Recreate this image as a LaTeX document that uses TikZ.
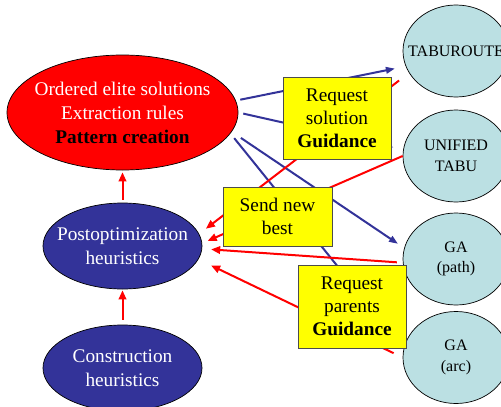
\documentclass[tikz,border=0pt]{standalone}
\usepackage{fontspec}
\setmainfont{Liberation Serif}
\usetikzlibrary{shapes.geometric,arrows.meta}
\definecolor{deepblue}{RGB}{51,51,153}
\definecolor{paleblue}{RGB}{187,224,227}
\definecolor{noteyellow}{RGB}{255,255,0}
\begin{document}
\begin{tikzpicture}[x=1pt,y=-1pt,
  txt/.style={align=center,font=\fontsize{19.3}{24}\selectfont,inner sep=0pt},
  smalltxt/.style={align=center,font=\fontsize{16}{20.5}\selectfont,inner sep=0pt},
  oval/.style={ellipse,draw=black,line width=0.7pt,inner sep=0pt},
  bigoval/.style={oval,fill=deepblue,minimum width=159pt,minimum height=86pt},
  algo/.style={oval,fill=paleblue,minimum width=106pt,minimum height=92pt},
  notebox/.style={rectangle,draw=black!70,line width=0.9pt,fill=noteyellow,
    inner sep=0pt,align=center,font=\fontsize{19.3}{23}\selectfont},
  flowred/.style={draw=red,line width=2pt,-{Triangle[length=9pt,width=7.5pt]}},
  flowblue/.style={draw=deepblue,line width=2pt,-{Triangle[length=9pt,width=6.5pt]}}
]
\useasboundingbox (0,0) rectangle (501,407);
\clip (0,0) rectangle (501,407);

% heuristics on the left
\node[oval,fill=red,minimum width=231pt,minimum height=115pt] (elite) at (122.5,112.5) {};
\node[txt,text=white] (elitetext) at (elite) {Ordered elite solutions\\Extraction rules\\\textcolor{black}{\textbf{Pattern creation}}};
\node[bigoval] (post) at (122.5,246) {};
\node[txt,text=white] (posttext) at (post) {Postoptimization\\heuristics};
\node[bigoval] (cons) at (122.5,368) {};
\node[txt,text=white] (constext) at (cons) {Construction\\heuristics};

% solvers on the right
\node[algo] (tabu) at (456,51) {};
\node[smalltxt] (tabutext) at (tabu) {TABUROUTE};
\node[algo] (unified) at (456,156) {};
\node[smalltxt] (unifiedtext) at (unified) {UNIFIED\\TABU};
\node[algo] (gapath) at (456,259) {};
\node[smalltxt] (gapathtext) at (gapath) {GA\\(path)};
\node[algo] (gaarc) at (456,357.5) {};
\node[smalltxt] (gaarctext) at (gaarc) {GA\\(arc)};

% requests from the pattern pool
\draw[flowblue,shorten <=4.5pt,shorten >=11pt] (elite.6) -- (tabu.197);
\draw[flowblue,shorten <=5pt,shorten >=10pt] (elite.0) -- (unified.173);
\draw[flowblue,shorten <=11pt,shorten >=7.5pt] (elite.-10) -- (gapath.168.5);
\draw[flowblue,shorten <=6pt,shorten >=2pt] (elite.-11.5) -- (gaarc.170);

% improvement chain and new best solutions
\draw[flowred,shorten <=5pt,shorten >=1pt] (cons.north) -- (post.south);
\draw[flowred,shorten <=3pt,shorten >=2pt] (post.north) -- (elite.south);
\draw[flowred,shorten <=12.5pt,shorten >=8.5pt] (tabu.205) -- (post.9.4);
\draw[flowred,shorten >=6pt] (unified.180) -- (post.2);
\draw[flowred,shorten <=6pt,shorten >=9pt] (gapath.184) -- (post.-2.6);
\draw[flowred,shorten <=10pt,shorten >=14pt] (gaarc.180) -- (post.-10.1);

% message labels
\node[notebox,minimum width=108pt,minimum height=82pt] (reqsol) at (337,118) {Request\\solution\\\textbf{Guidance}};
\node[notebox,minimum width=109pt,minimum height=59pt] (send) at (277.5,216.5) {Send new\\best};
\node[notebox,minimum width=108pt,minimum height=83pt] (reqpar) at (352,306.5) {Request\\parents\\\textbf{Guidance}};
\end{tikzpicture}
\end{document}
